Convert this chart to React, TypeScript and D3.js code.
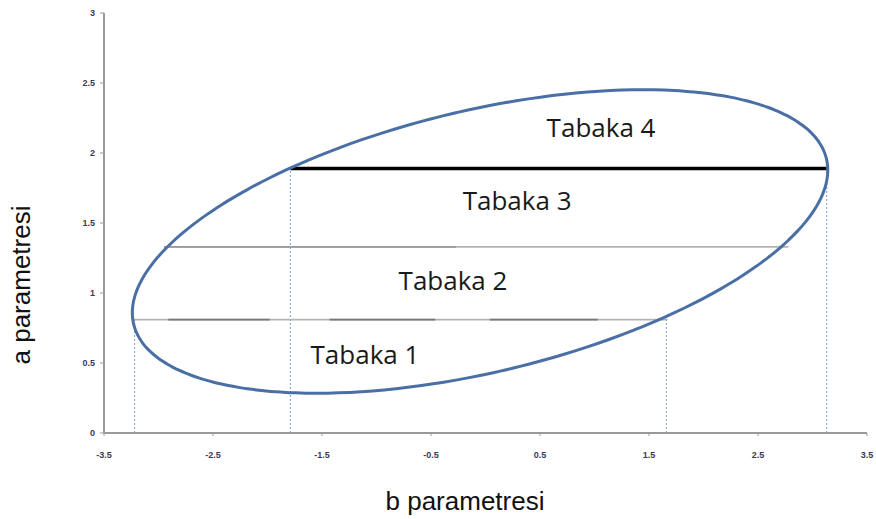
import React from "react";
import * as d3 from "d3";

const W = 876;
const H = 519;

const xTicks = [-3.5, -2.5, -1.5, -0.5, 0.5, 1.5, 2.5, 3.5];
const yTicks = [0, 0.5, 1, 1.5, 2, 2.5, 3];

// ellipse: center, x-radius, y-radius, phase (deg)
const ellipseCenter = [-0.05, 1.368];
const ellipseRadii = [3.19, 1.084];
const ellipsePhase = 62;

// boundary lines [y, x0, x1]
const boundaries = [
  [0.81, -3.24, 1.67],
  [1.33, -2.95, 2.78],
];
const thickBoundary = [1.89, -1.79, 3.13];
const darkSegments = [
  [-2.91, -1.98],
  [-1.43, -0.46],
  [0.04, 1.03],
];
const upperDarkSegment = [-2.95, -0.27];
const verticals = [
  [-3.22, 0.81],
  [-1.79, 1.89],
  [1.66, 0.81],
  [3.13, 1.89],
];
const layerLabels = ["Tabaka 4", "Tabaka 3", "Tabaka 2", "Tabaka 1"];
const labelX = [1.06, 0.29, -0.298, -1.106];
const labelY = [2.18, 1.657, 1.086, 0.557];

export default function App() {
  const x = d3.scaleLinear().domain([-3.5, 3.5]).range([104, 867]);
  const y = d3.scaleLinear().domain([0, 3]).range([433, 13]);

  const ts = d3.range(0, 361, 2);
  const ph = (ellipsePhase * Math.PI) / 180;
  const ellPath =
    d3
      .line<number>()
      .x((t) => x(ellipseCenter[0] + ellipseRadii[0] * Math.cos((t * Math.PI) / 180)))
      .y((t) => y(ellipseCenter[1] + ellipseRadii[1] * Math.cos((t * Math.PI) / 180 - ph)))
      .curve(d3.curveCardinalClosed)(ts.slice(0, -1)) || "";

  const fontTick = "'Liberation Sans', Arial, sans-serif";
  return (
    <svg
      width={W}
      height={H}
      style={{ position: "absolute", left: 0, top: 0, background: "#fff" }}
      fontFamily={fontTick}
    >
      {/* vertical dotted lines */}
      {verticals.map(([vx, vy], i) => (
        <line
          key={"v" + i}
          x1={x(vx)}
          x2={x(vx)}
          y1={y(0)}
          y2={y(vy)}
          stroke="#8fa9d6"
          strokeWidth={1.2}
          strokeDasharray="2,2"
        />
      ))}
      {/* boundary lines */}
      {boundaries.map(([by, x0, x1], i) => (
        <line
          key={"b" + i}
          x1={x(x0)}
          x2={x(x1)}
          y1={y(by)}
          y2={y(by)}
          stroke="#b4b4b4"
          strokeWidth={1.8}
        />
      ))}
      {darkSegments.map(([x0, x1], i) => (
        <line
          key={"d" + i}
          x1={x(x0)}
          x2={x(x1)}
          y1={y(boundaries[0][0])}
          y2={y(boundaries[0][0])}
          stroke="#777"
          strokeWidth={1.8}
        />
      ))}
      <line
        x1={x(upperDarkSegment[0])}
        x2={x(upperDarkSegment[1])}
        y1={y(boundaries[1][0])}
        y2={y(boundaries[1][0])}
        stroke="#999"
        strokeWidth={1.8}
      />
      <line
        x1={x(thickBoundary[1])}
        x2={x(thickBoundary[2])}
        y1={y(thickBoundary[0])}
        y2={y(thickBoundary[0])}
        stroke="#000"
        strokeWidth={3.5}
      />
      {/* ellipse */}
      <path d={ellPath} fill="none" stroke="#4a6fa5" strokeWidth={3} />
      {/* axes */}
      <line x1={x(-3.5)} x2={x(-3.5)} y1={y(0)} y2={y(3)} stroke="#999" strokeWidth={2} />
      <line x1={x(-3.5)} x2={x(3.5)} y1={y(0)} y2={y(0)} stroke="#999" strokeWidth={2} />
      {yTicks.map((t) => (
        <g key={"yt" + t}>
          <line x1={x(-3.5) - 4} x2={x(-3.5)} y1={y(t)} y2={y(t)} stroke="#999" strokeWidth={1} />
          <text
            x={x(-3.5) - 9}
            y={y(t)}
            dy="0.35em"
            textAnchor="end"
            fontSize={9}
            fontWeight="bold"
            fill="#3a3a50"
          >
            {String(t)}
          </text>
        </g>
      ))}
      {xTicks.map((t) => (
        <g key={"xt" + t}>
          <line x1={x(t)} x2={x(t)} y1={y(0)} y2={y(0) + 3} stroke="#999" strokeWidth={1} />
          <text
            x={x(t)}
            y={y(0) + 25}
            textAnchor="middle"
            fontSize={9}
            fontWeight="bold"
            fill="#3a3a50"
          >
            {String(t)}
          </text>
        </g>
      ))}
      {/* layer labels */}
      {layerLabels.map((l, i) => (
        <text
          key={l}
          x={x(labelX[i])}
          y={y(labelY[i])}
          dy="0.35em"
          textAnchor="middle"
          fontSize={26}
          fill="#1a1a1a"
          fontFamily="'Open Sans', 'Liberation Sans', sans-serif"
        >
          {l}
        </text>
      ))}
      {/* axis titles */}
      <text
        transform={`translate(30,285) rotate(-90)`}
        textAnchor="middle"
        fontSize={26}
        fill="#111"
      >
        a parametresi
      </text>
      <text x={465} y={510} textAnchor="middle" fontSize={26} fill="#111">
        b parametresi
      </text>
    </svg>
  );
}
